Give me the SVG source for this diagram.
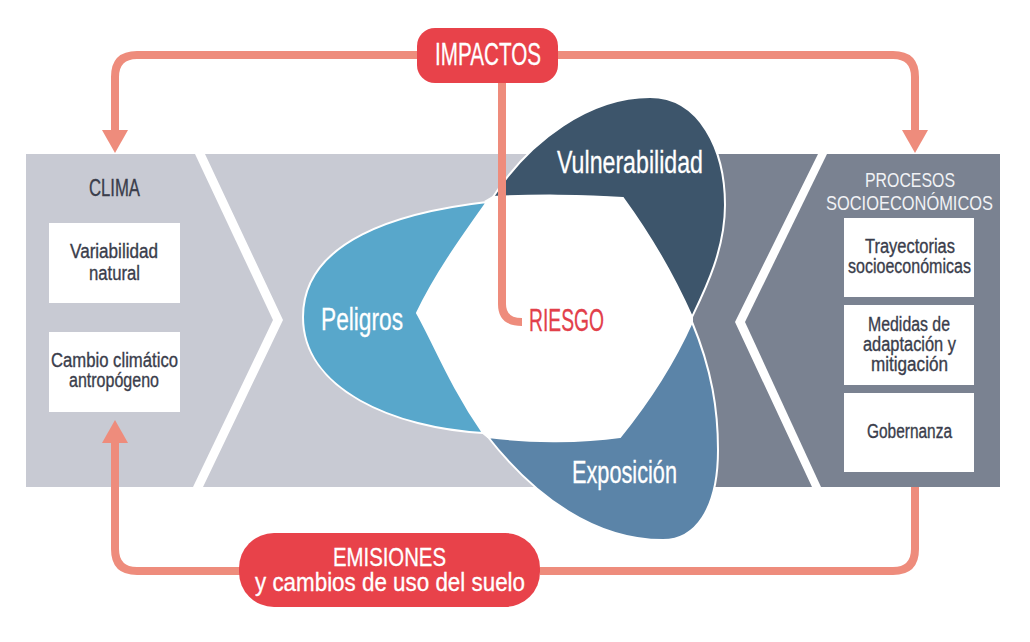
<svg xmlns="http://www.w3.org/2000/svg" width="1030" height="642" viewBox="0 0 1030 642">
<style>
text{font-family:"Liberation Sans Narrow","Liberation Sans",Arial,sans-serif;text-anchor:start}
.t{fill:#3a3d4b;stroke:#3a3d4b;stroke-width:.35;font-size:20px}
.w{fill:#fff;stroke:#fff;stroke-width:.3;font-size:31px}
.e{font-size:25px}
.h{fill:#f1f2f5;font-size:21px}
.r{fill:#e2404a;stroke:#e2404a;stroke-width:.3;font-size:32px}
.c{fill:none;stroke:#ee8c7c;stroke-width:8;stroke-linejoin:round}
.b{fill:#fff}
.p{stroke:#fff;stroke-width:2}
.pill{fill:#e8424a}
</style>
<defs>
<marker id="arrow" markerUnits="userSpaceOnUse" markerWidth="26" markerHeight="26" refX="0" refY="13" orient="auto">
<path d="M0,0L23,13L0,26Z" fill="#ee8c7c"/>
</marker>
</defs>
<rect width="1030" height="642" fill="#fff"/>
<g id="panels">
<polygon points="26,154 195,154 273,320 193,487 26,487" fill="#c8cad3"/>
<polygon points="205,154 580,154 580,487 203,487 283,320" fill="#c8cad3"/>
<polygon points="690,154 818,154 735,322 812,487 690,487" fill="#7a8291"/>
<polygon points="827,154 1000,154 1000,487 821,487 745,322" fill="#7a8291"/>
</g>
<g id="riesgo-petals">
<path id="center" d="M486,201L493,197C530,195 585,195 623,198C650,235 672,272 692,317V322C675,360 650,400 620,437C580,443 525,442 488,437L483,433C450,385 435,345 417,313C435,275 460,240 487,202Z" fill="#fff" stroke="#fff" stroke-width="2"/>
<g id="vulnerabilidad">
<path class="p" fill="#3d556b" d="M493,197C530,140 590,97 650,97C700,97 725,150 725,205C725,250 705,290 692,317C672,272 650,235 623,198C585,195 530,195 493,197Z"/>
<text class="w" x="557" y="173" textLength="146" lengthAdjust="spacingAndGlyphs">Vulnerabilidad</text>
</g>
<g id="peligros">
<path class="p" fill="#58a7cb" d="M487,202C400,212 303,240 303,317C303,390 395,428 483,433C450,385 435,345 417,313C435,275 460,240 487,202Z"/>
<text class="w" x="321" y="330" textLength="82" lengthAdjust="spacingAndGlyphs">Peligros</text>
</g>
<g id="exposicion">
<path class="p" fill="#5b84a8" d="M488,437C525,442 580,443 620,437C650,400 675,360 692,322C712,370 718,410 718,450C718,510 695,540 663,540C595,540 535,497 488,437Z"/>
<text class="w" x="572" y="483" textLength="105" lengthAdjust="spacingAndGlyphs">Exposición</text>
</g>
</g>
<g id="connectors">
<path class="c" d="M417,55H137Q115,55 115,77V130" marker-end="url(#arrow)"/>
<path class="c" d="M557,55H893Q915,55 915,77V130" marker-end="url(#arrow)"/>
<path class="c" d="M240,571H137Q115,571 115,549V443" marker-end="url(#arrow)"/>
<path class="c" d="M540,571H893Q915,571 915,549V487"/>
<path class="c" d="M502,83V304Q502,322 522,322"/>
</g>
<g id="impactos">
<rect class="pill" x="417" y="28" width="141" height="55" rx="18"/>
<text class="w" x="435" y="65" textLength="106" lengthAdjust="spacingAndGlyphs">IMPACTOS</text>
</g>
<g id="emisiones">
<rect class="pill" x="239" y="533" width="301" height="74" rx="35"/>
<text class="w e" x="333" y="566" textLength="113" lengthAdjust="spacingAndGlyphs">EMISIONES</text>
<text class="w e" x="255" y="591" textLength="270" lengthAdjust="spacingAndGlyphs">y cambios de uso del suelo</text>
</g>
<g id="riesgo">
<text class="r" x="529" y="331" textLength="75" lengthAdjust="spacingAndGlyphs">RIESGO</text>
</g>
<g id="clima">
<text class="t" style="font-size:24px" x="89" y="196" textLength="51" lengthAdjust="spacingAndGlyphs">CLIMA</text>
</g>
<g id="variabilidad-natural">
<rect class="b" x="49" y="223" width="131" height="80"/>
<text class="t" x="70" y="258" textLength="88" lengthAdjust="spacingAndGlyphs">Variabilidad</text>
<text class="t" x="89" y="280" textLength="51" lengthAdjust="spacingAndGlyphs">natural</text>
</g>
<g id="cambio-climatico">
<rect class="b" x="49" y="332" width="131" height="80"/>
<text class="t" x="51" y="367" textLength="127" lengthAdjust="spacingAndGlyphs">Cambio climático</text>
<text class="t" x="69" y="387" textLength="90" lengthAdjust="spacingAndGlyphs">antropógeno</text>
</g>
<g id="procesos">
<text class="h" x="865" y="187" textLength="90" lengthAdjust="spacingAndGlyphs">PROCESOS</text>
<text class="h" x="826" y="210" textLength="167" lengthAdjust="spacingAndGlyphs">SOCIOECONÓMICOS</text>
</g>
<g id="trayectorias">
<rect class="b" x="844" y="218" width="130" height="79"/>
<text class="t" x="865" y="253" textLength="90" lengthAdjust="spacingAndGlyphs">Trayectorias</text>
<text class="t" x="848" y="273" textLength="123" lengthAdjust="spacingAndGlyphs">socioeconómicas</text>
</g>
<g id="medidas">
<rect class="b" x="844" y="305" width="130" height="80"/>
<text class="t" x="868" y="331" textLength="82" lengthAdjust="spacingAndGlyphs">Medidas de</text>
<text class="t" x="863" y="351" textLength="93" lengthAdjust="spacingAndGlyphs">adaptación y</text>
<text class="t" x="871" y="371" textLength="77" lengthAdjust="spacingAndGlyphs">mitigación</text>
</g>
<g id="gobernanza">
<rect class="b" x="844" y="393" width="130" height="79"/>
<text class="t" x="867" y="438" textLength="85" lengthAdjust="spacingAndGlyphs">Gobernanza</text>
</g>
</svg>
